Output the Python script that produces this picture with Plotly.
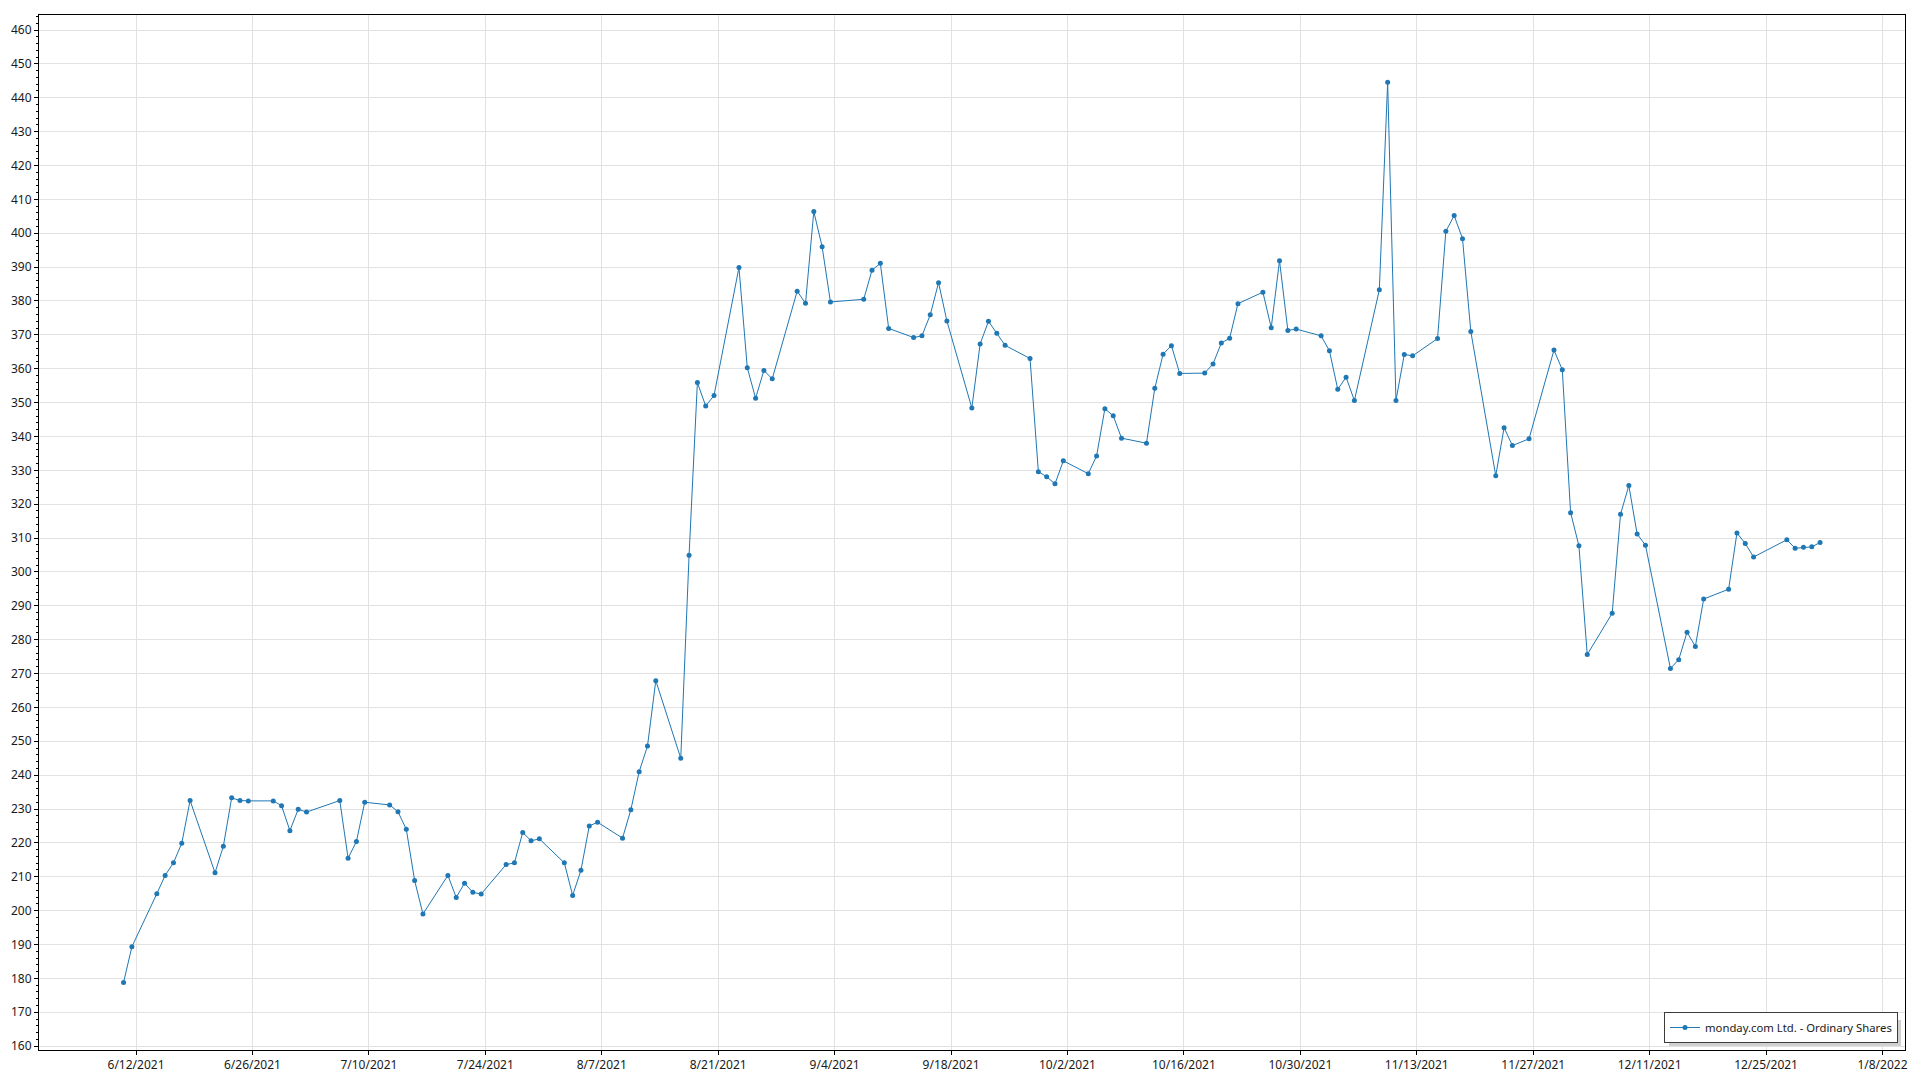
import plotly.graph_objects as go
from datetime import datetime, timedelta

series_name = "monday.com Ltd. - Ordinary Shares"

dates = [
    "2021-06-10", "2021-06-11", "2021-06-14", "2021-06-15", "2021-06-16", "2021-06-17", "2021-06-18",
    "2021-06-21", "2021-06-22", "2021-06-23", "2021-06-24", "2021-06-25",
    "2021-06-28", "2021-06-29", "2021-06-30", "2021-07-01", "2021-07-02",
    "2021-07-06", "2021-07-07", "2021-07-08", "2021-07-09",
    "2021-07-12", "2021-07-13", "2021-07-14", "2021-07-15", "2021-07-16",
    "2021-07-19", "2021-07-20", "2021-07-21", "2021-07-22", "2021-07-23",
    "2021-07-26", "2021-07-27", "2021-07-28", "2021-07-29", "2021-07-30",
    "2021-08-02", "2021-08-03", "2021-08-04", "2021-08-05", "2021-08-06",
    "2021-08-09", "2021-08-10", "2021-08-11", "2021-08-12", "2021-08-13",
    "2021-08-16", "2021-08-17", "2021-08-18", "2021-08-19", "2021-08-20",
    "2021-08-23", "2021-08-24", "2021-08-25", "2021-08-26", "2021-08-27",
    "2021-08-30", "2021-08-31", "2021-09-01", "2021-09-02", "2021-09-03",
    "2021-09-07", "2021-09-08", "2021-09-09", "2021-09-10",
    "2021-09-13", "2021-09-14", "2021-09-15", "2021-09-16", "2021-09-17",
    "2021-09-20", "2021-09-21", "2021-09-22", "2021-09-23", "2021-09-24",
    "2021-09-27", "2021-09-28", "2021-09-29", "2021-09-30", "2021-10-01",
    "2021-10-04", "2021-10-05", "2021-10-06", "2021-10-07", "2021-10-08",
    "2021-10-11", "2021-10-12", "2021-10-13", "2021-10-14", "2021-10-15",
    "2021-10-18", "2021-10-19", "2021-10-20", "2021-10-21", "2021-10-22",
    "2021-10-25", "2021-10-26", "2021-10-27", "2021-10-28", "2021-10-29",
    "2021-11-01", "2021-11-02", "2021-11-03", "2021-11-04", "2021-11-05",
    "2021-11-08", "2021-11-09", "2021-11-10", "2021-11-11", "2021-11-12",
    "2021-11-15", "2021-11-16", "2021-11-17", "2021-11-18", "2021-11-19",
    "2021-11-22", "2021-11-23", "2021-11-24", "2021-11-26",
    "2021-11-29", "2021-11-30", "2021-12-01", "2021-12-02", "2021-12-03",
    "2021-12-06", "2021-12-07", "2021-12-08", "2021-12-09", "2021-12-10",
    "2021-12-13", "2021-12-14", "2021-12-15", "2021-12-16", "2021-12-17",
    "2021-12-20", "2021-12-21", "2021-12-22", "2021-12-23",
    "2021-12-27", "2021-12-28", "2021-12-29", "2021-12-30", "2021-12-31",
]

prices = [
    178.8, 189.3, 205.0, 210.4, 214.1, 219.9, 232.5,
    211.2, 219.0, 233.3, 232.5, 232.4,
    232.4, 231.0, 223.6, 229.9, 229.1,
    232.5, 215.5, 220.4, 232.0,
    231.2, 229.2, 224.0, 208.9, 199.0,
    210.4, 203.9, 208.1, 205.4, 204.9,
    213.6, 214.1, 223.1, 220.6, 221.2,
    214.1, 204.5, 211.9, 225.0, 226.1,
    221.4, 229.8, 241.0, 248.6, 267.9,
    245.0, 304.9, 355.9, 349.0, 352.1,
    389.9, 360.3, 351.3, 359.5, 357.0,
    382.9, 379.3, 406.4, 396.0, 379.7,
    380.5, 389.1, 391.1, 371.9,
    369.2, 369.7, 375.9, 385.4, 374.1,
    348.4, 367.3, 374.0, 370.5, 366.9,
    363.0, 329.6, 328.1, 326.0, 332.8,
    329.0, 334.2, 348.2, 346.1, 339.5,
    338.0, 354.2, 364.3, 366.8, 358.6,
    358.7, 361.4, 367.6, 369.0, 379.2,
    382.6, 372.1, 391.9, 371.3, 371.7,
    369.7, 365.3, 353.9, 357.5, 350.6,
    383.3, 444.6, 350.6, 364.2, 363.8,
    368.9, 400.6, 405.2, 398.4, 371.0,
    328.4, 342.6, 337.3, 339.3,
    365.5, 359.7, 317.5, 307.7, 275.6,
    287.8, 317.0, 325.5, 311.2, 307.9,
    271.5, 274.1, 282.2, 278.0, 292.0,
    294.9, 311.5, 308.4, 304.4,
    309.5, 307.0, 307.3, 307.4, 308.7,
]

x_tick_labels = [
    "6/12/2021", "6/26/2021", "7/10/2021", "7/24/2021", "8/7/2021", "8/21/2021",
    "9/4/2021", "9/18/2021", "10/2/2021", "10/16/2021", "10/30/2021", "11/13/2021",
    "11/27/2021", "12/11/2021", "12/25/2021", "1/8/2022",
]
# axis day boundaries sit half a day before each labelled date
x_tick_vals = [datetime.strptime(t, "%m/%d/%Y") - timedelta(hours=12) for t in x_tick_labels]

line_color = "#1f77b4"
grid_color = "#e2e2e2"
font_family = "Noto Sans"
text_color = "#1a1a1a"

fig = go.Figure()
fig.add_trace(go.Scatter(
    x=dates, y=prices, mode="lines+markers", name=series_name,
    line=dict(color=line_color, width=1),
    marker=dict(color=line_color, size=5),
))

W, H = 1920, 1072
ml, mr, mt, mb = 39, 15, 15, 22
pw, ph = W - ml - mr, H - mt - mb

# legend drop shadow (decoration)
lx1, lx2, ly1, ly2 = 1666, 1898, 1017, 1043
off = 3
fig.add_shape(type="rect", xref="paper", yref="paper",
              x0=(lx1 + off - ml) / pw, x1=(lx2 + off - ml) / pw,
              y0=(H - mb - (ly2 + off)) / ph, y1=(H - mb - (ly1 + off)) / ph,
              fillcolor="#d0d0d0", line=dict(width=0), layer="above")

fig.update_layout(
    width=W, height=H, autosize=False,
    margin=dict(l=ml, r=mr, t=mt, b=mb),
    paper_bgcolor="white", plot_bgcolor="white",
    font=dict(family=font_family, size=12, color=text_color),
    showlegend=True,
    legend=dict(
        x=(lx2 - ml) / pw, y=(H - mb - ly2) / ph, xanchor="right", yanchor="bottom",
        bgcolor="white", bordercolor="#3c3c3c", borderwidth=1,
        font=dict(family=font_family, size=11.3, color=text_color),
        tracegroupgap=0,
    ),
    xaxis=dict(
        type="date",
        range=["2021-05-30 20:00", "2022-01-10 05:00"],
        tickvals=x_tick_vals, ticktext=x_tick_labels,
        showgrid=True, gridcolor=grid_color, gridwidth=1,
        showline=True, linecolor="black", linewidth=1, mirror=True,
        ticks="outside", ticklen=4, tickcolor="black",
        zeroline=False, automargin=False,
        tickfont=dict(family=font_family, size=12, color=text_color),
    ),
    yaxis=dict(
        range=[158.85, 464.43],
        tick0=0, dtick=10,
        showgrid=True, gridcolor=grid_color, gridwidth=1,
        showline=True, linecolor="black", linewidth=1, mirror=True,
        ticks="outside", ticklen=4, tickcolor="black",
        minor=dict(dtick=2, tick0=0, ticks="outside", ticklen=2, tickcolor="black", showgrid=False),
        zeroline=False, automargin=False,
        tickfont=dict(family=font_family, size=12, color=text_color),
    ),
)

fig.write_html(
    "out.html",
    config={"displayModeBar": False, "responsive": False},
    post_script="document.body.style.margin='0';document.body.style.overflow='hidden';document.documentElement.style.overflow='hidden';",
)
